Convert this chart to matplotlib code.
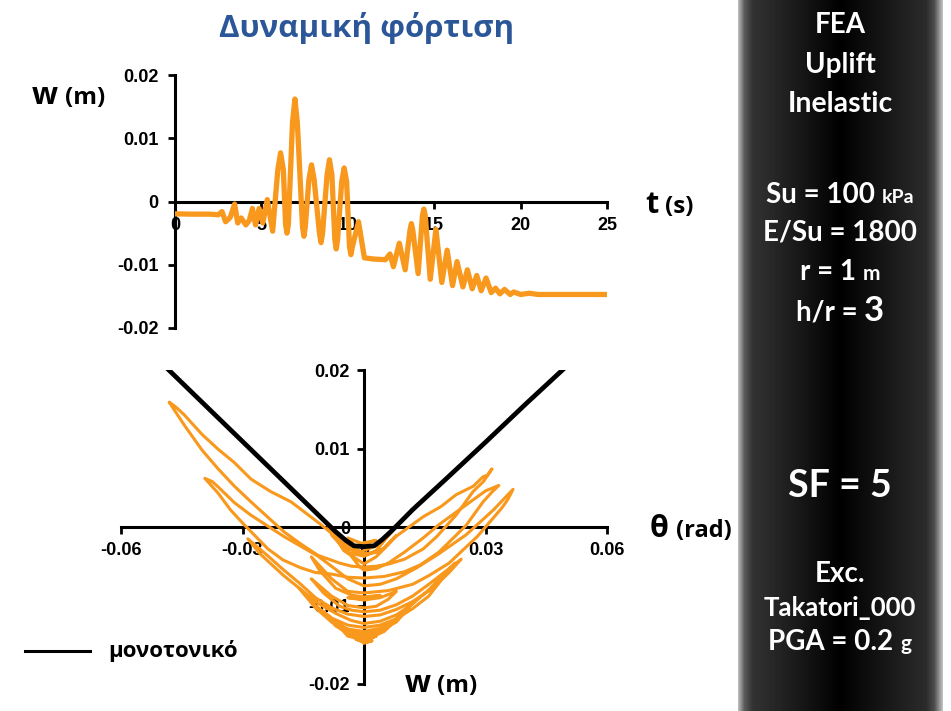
import numpy as np
import matplotlib
matplotlib.use("Agg")
import matplotlib.pyplot as plt
from matplotlib.lines import Line2D
from matplotlib.transforms import IdentityTransform

# time history w(t)
t_top = [0, 1, 2, 2.5, 2.72, 2.93, 3.2, 3.45, 3.63, 3.83,
         4.1, 4.3, 4.48, 4.66, 4.87, 5.08, 5.34, 5.65, 5.95, 6.11,
         6.27, 6.4, 6.48, 6.56, 6.8, 6.94, 7.08, 7.38, 7.46, 7.54,
         7.75, 7.9, 8.05, 8.36, 8.45, 8.54, 8.8, 8.94, 9.08, 9.25,
         9.33, 9.41, 9.65, 9.79, 9.93, 10.1, 10.18, 10.26, 10.62, 10.96,
         11.5, 12.18, 12.44, 12.64, 12.98, 13.32, 13.6, 13.68, 13.76, 14.07,
         14.32, 14.4, 14.48, 14.77, 15.1, 15.44, 15.75, 16.06, 16.32, 16.66,
         16.92, 17.2, 17.46, 17.72, 18.0, 18.3, 18.55, 18.8, 19.07, 19.4,
         19.6, 20.0, 20.5, 21, 22, 23, 24, 25]
w_top = [-0.00195, -0.002, -0.002, -0.0021, -0.0016, -0.0032, -0.0025, -0.0004, -0.0034, -0.0026,
         -0.0037, -0.003, -0.0011, -0.0037, -0.0011, -0.0034, 0.0003, -0.0047, 0.005, 0.0077,
         0.005, -0.0036, -0.005, -0.0036, 0.0125, 0.0162, 0.0125, -0.004, -0.0055, -0.004,
         0.0035, 0.0058, 0.0035, -0.005, -0.0065, -0.005, 0.0042, 0.0066, 0.0042, -0.006,
         -0.0075, -0.006, 0.0032, 0.0053, 0.0032, -0.0072, -0.0084, -0.0072, -0.0032, -0.0089,
         -0.0091, -0.0092, -0.0083, -0.0103, -0.0066, -0.0108, -0.0045, -0.0035, -0.0045, -0.0114,
         -0.0022, -0.0012, -0.0022, -0.0123, -0.0044, -0.0128, -0.0077, -0.0133, -0.0095, -0.0135,
         -0.0108, -0.0138, -0.0117, -0.0141, -0.0121, -0.0144, -0.0137, -0.0146, -0.0139, -0.0147,
         -0.0143, -0.0147, -0.0145, -0.0147, -0.0147, -0.0147, -0.0147, -0.0147]

# rotation - settlement loops (theta, w)
theta_loop = [0, 0.003, 0, -0.004, -0.001, 0.004, 0.007, 0.003, 0, -0.005, -0.008, -0.004, 0, 0.005, 0.008, 0.004, 0, -0.006, -0.009, -0.005, 0,
              0.003, 0.0079, 0.0146, 0.019, 0.0227, 0.027, 0.0294, 0.0305, 0.0316, 0.0295, 0.0269, 0.0227, 0.018, 0.0146, 0.01, 0.0062, 0.003, 0,
              -0.003, -0.006, -0.0114, -0.0155, -0.0198, -0.0279, -0.032, -0.036, -0.040, -0.0444, -0.0481,
              -0.0465, -0.0444, -0.040, -0.036, -0.032, -0.0279, -0.023, -0.018, -0.0106, -0.0057, -0.003, -0.0012, 0,
              0.003, 0.006, 0.01, 0.0146, 0.0185, 0.0252, 0.03, 0.0333, 0.0315, 0.0294, 0.0252, 0.0185, 0.014, 0.01, 0.005, 0,
              -0.004, -0.008, -0.012, -0.0156, -0.02, -0.0237, -0.0296, -0.033, -0.036, -0.0393,
              -0.0375, -0.036, -0.032, -0.0279, -0.0198, -0.0114, -0.0075, -0.004, 0,
              0.004, 0.008, 0.013, 0.0185, 0.0252, 0.032, 0.0368, 0.0355, 0.034, 0.028, 0.021, 0.016, 0.012, 0.006, 0,
              -0.004, -0.008, -0.013, -0.011, -0.007, -0.003, 0,
              0.004, 0, -0.004, 0,
              0.004, 0.008, 0.006, 0.003, 0,
              -0.004, -0.008, -0.013, -0.01, -0.006, -0.003, 0,
              0.004, 0.008, 0.012, 0.016, 0.02, 0.024, 0.021, 0.017, 0.012, 0.008, 0.004, 0,
              -0.004, -0.008, -0.012, -0.0156, -0.02, -0.0237, -0.0287, -0.0255, -0.0198, -0.015, -0.0114, -0.007, -0.0032, 0,
              0.004, 0.008, 0.012, 0.016, 0.0225, 0.019, 0.016, 0.012, 0.008, 0.004, 0,
              -0.004, -0.008, -0.012, -0.016, -0.012, -0.008, -0.004, 0,
              0.004, 0.008, 0.012, 0.008, 0.004, 0,
              -0.004, -0.007, -0.01, -0.007, -0.004, 0,
              0.004, 0.008, 0.005, 0.002, 0,
              -0.004, -0.007, -0.004, 0,
              0.003, 0, -0.002, 0, 0.002, 0]
w_loop = [-0.002, -0.0017, -0.0022, -0.0014, -0.0032, -0.0022, -0.0005, -0.003, -0.0037, -0.0025, -0.001, -0.0033, -0.0037, -0.0027, -0.0011, -0.0032, -0.0034, -0.0018, 0.0003, -0.003, -0.0047,
          -0.0038, -0.0012, 0.0013, 0.0026, 0.0041, 0.0052, 0.0064, 0.0066, 0.0074, 0.0058, 0.0045, 0.0015, -0.0012, -0.0028, -0.0041, -0.0047, -0.005, -0.0051,
          -0.005, -0.0046, -0.0036, -0.0022, -0.0006, 0.0032, 0.0052, 0.0074, 0.0098, 0.013, 0.0159,
          0.0153, 0.0143, 0.0118, 0.0099, 0.0082, 0.0061, 0.0045, 0.0032, 0.0003, -0.0018, -0.0038, -0.005, -0.0055,
          -0.0053, -0.0046, -0.0032, -0.0014, 0.0003, 0.0028, 0.0046, 0.0053, 0.0044, 0.0032, 0.0002, -0.0032, -0.0048, -0.0057, -0.0063, -0.0065,
          -0.0064, -0.006, -0.0058, -0.0052, -0.0042, -0.0028, 0.0003, 0.0022, 0.0043, 0.0062,
          0.0058, 0.0051, 0.0031, 0.0015, -0.0012, -0.0037, -0.0052, -0.0066, -0.0075,
          -0.0073, -0.0066, -0.0052, -0.0034, -0.001, 0.0022, 0.0048, 0.0035, 0.0024, -0.0012, -0.0046, -0.0062, -0.0073, -0.0081, -0.0084,
          -0.0082, -0.0066, -0.0038, -0.0055, -0.0078, -0.0087, -0.0089,
          -0.0087, -0.0092, -0.009, -0.0093,
          -0.009, -0.0082, -0.0092, -0.0101, -0.0103,
          -0.01, -0.0088, -0.0066, -0.0084, -0.0101, -0.0106, -0.0108,
          -0.0106, -0.0099, -0.0088, -0.0073, -0.0057, -0.0041, -0.0058, -0.0078, -0.0095, -0.0105, -0.0112, -0.0114,
          -0.0111, -0.0103, -0.009, -0.0073, -0.0054, -0.0037, -0.0015, -0.0035, -0.0062, -0.0082, -0.0097, -0.011, -0.0119, -0.0123,
          -0.012, -0.0112, -0.0098, -0.008, -0.0046, -0.0068, -0.0088, -0.0104, -0.0117, -0.0125, -0.0128,
          -0.0125, -0.0116, -0.01, -0.0078, -0.0103, -0.0121, -0.013, -0.0133,
          -0.0129, -0.0117, -0.0097, -0.0121, -0.0132, -0.0135,
          -0.0131, -0.0121, -0.0108, -0.0126, -0.0135, -0.0138,
          -0.0134, -0.0118, -0.0133, -0.014, -0.0141,
          -0.0136, -0.0122, -0.0139, -0.0144,
          -0.0139, -0.0146, -0.0143, -0.0147, -0.0145, -0.0148]

# monotonic curve
theta_mono = [-0.0482, -0.040, -0.030, -0.020, -0.012, -0.007, -0.0045, -0.0025, 0.0,
              0.0025, 0.0045, 0.007, 0.012, 0.020, 0.030, 0.040, 0.049]
w_mono = [0.02, 0.0159, 0.0109, 0.0059, 0.0019, -0.0006, -0.0017, -0.0024, -0.0025,
          -0.0024, -0.0016, -0.0004, 0.0022, 0.006, 0.0108, 0.0157, 0.02]

top_xticks = [0, 5, 10, 15, 20, 25]
top_yticks = [-0.02, -0.01, 0, 0.01, 0.02]
top_ylabels = ["-0.02", "-0.01", "0", "0.01", "0.02"]
bot_xticks = [-0.06, -0.03, 0, 0.03, 0.06]
bot_xlabels = ["-0.06", "-0.03", "0", "0.03", "0.06"]

ORANGE = "#F8981D"
W, H = 951, 711
GREEK = ["Open Sans", "DejaVu Sans"]
PANEL = ["Lato", "DejaVu Sans"]

plt.rcParams["font.family"] = ["Liberation Sans", "DejaVu Sans"]
fig = plt.figure(figsize=(W / 100, H / 100), dpi=100)


def fx(px):
    return px / W


def fy(py):
    return 1 - py / H


def style_axes(ax, ypad, xpad):
    for s in ["top", "right"]:
        ax.spines[s].set_visible(False)
    for s in ["left", "bottom"]:
        ax.spines[s].set_linewidth(2.2)
        ax.spines[s].set_zorder(1)
    ax.tick_params(axis="both", direction="out", length=5, width=2, labelsize=13)
    ax.tick_params(axis="y", pad=ypad)
    ax.tick_params(axis="x", pad=xpad)
    for lab in ax.get_xticklabels() + ax.get_yticklabels():
        lab.set_fontweight("bold")
    ax.patch.set_alpha(0)


# dark side panel
axp = fig.add_axes([fx(738), 0, fx(943) - fx(738), 1])
cols = np.linspace(0, 1, 205)
shade = np.interp(cols, [0, 0.03, 0.07, 0.5, 0.92, 0.96, 1.0],
                  [0.72, 0.35, 0.2, 0.0, 0.17, 0.3, 0.75])
axp.imshow(np.tile(shade, (10, 1)), cmap="gray", vmin=0, vmax=1, aspect="auto",
           extent=[0, 1, 0, 1])
axp.axis("off")

# upper chart: w(t)
ax1 = fig.add_axes([fx(175), fy(328), fx(607) - fx(175), (328 - 75) / H])
ax1.plot(t_top, w_top, color=ORANGE, lw=3.8, solid_joinstyle="round", zorder=3)
ax1.set_xlim(0, 25)
ax1.set_ylim(-0.02, 0.02)
ax1.spines["bottom"].set_position(("data", 0))
ax1.set_xticks(top_xticks)
ax1.set_xticklabels([str(v) for v in top_xticks])
ax1.set_yticks(top_yticks)
ax1.set_yticklabels(top_ylabels)
style_axes(ax1, 7, 6)

# lower chart: w(theta)
ax2 = fig.add_axes([fx(121), fy(684), fx(607) - fx(121), (684 - 370) / H])
ax2.plot(theta_loop, w_loop, color=ORANGE, lw=2.2, solid_joinstyle="round", zorder=3)
ax2.plot(theta_mono, w_mono, color="black", lw=3.4, solid_joinstyle="round", zorder=4)
ax2.set_xlim(-0.06, 0.06)
ax2.set_ylim(-0.02, 0.02)
ax2.spines["bottom"].set_position(("data", 0))
ax2.spines["left"].set_position(("data", 0))
ax2.set_xticks(bot_xticks)
ax2.set_xticklabels(bot_xlabels)
ax2.set_yticks(top_yticks)
ax2.set_yticklabels(top_ylabels)
style_axes(ax2, 5, 6)


# text placed in image pixels (y down)
def ptext(x, yb, s, size, family=GREEK, color="black", ha="left"):
    return fig.text(x, H - yb, s, fontsize=size, fontweight="bold", family=family,
                    color=color, ha=ha, va="baseline", transform=IdentityTransform())


def centered(xc, yb, parts, gap=7):
    r = fig.canvas.get_renderer()
    arts = [ptext(0, yb, s, sz, PANEL, "white") for s, sz in parts]
    ws = [a.get_window_extent(r).width for a in arts]
    x = xc - (sum(ws) + gap * (len(ws) - 1)) / 2
    for a, w in zip(arts, ws):
        a.set_position((x, H - yb))
        x += w + gap


fig.text(fx(367), fy(28), "Δυναμική φόρτιση", fontsize=22.5, fontweight="bold",
         family=GREEK, color="#2B5798", ha="center", va="center")

ptext(32, 104, "w", 22)
ptext(65, 104, "(m)", 17.5)
ptext(645, 213, "t", 22)
ptext(665, 213, "(s)", 17.5)
ptext(650, 537, "θ", 22)
ptext(676, 537, "(rad)", 17)
ptext(405, 692, "w", 22)
ptext(437, 692, "(m)", 17.5)

fig.add_artist(Line2D([fx(25), fx(90)], [fy(651), fy(651)], color="black", lw=2.2))
ptext(108, 657, "μονοτονικό", 16)

centered(840, 33, [("FEA", 20)])
centered(840, 73, [("Uplift", 20)])
centered(840, 112, [("Inelastic", 20.5)])
centered(840, 203, [("Su = 100", 20), ("kPa", 14)])
centered(840, 241, [("E/Su = 1800", 20)])
centered(840, 280, [("r = 1", 20), ("m", 15)])
centered(840, 321, [("h/r =", 20), ("3", 25)])
centered(840, 497, [("SF = 5", 27)])
centered(840, 582, [("Exc.", 20)])
centered(840, 616, [("Takatori_000", 18.5)])
centered(840, 650, [("PGA = 0.2", 20), ("g", 15)])

fig.savefig("out.png", dpi=100)
